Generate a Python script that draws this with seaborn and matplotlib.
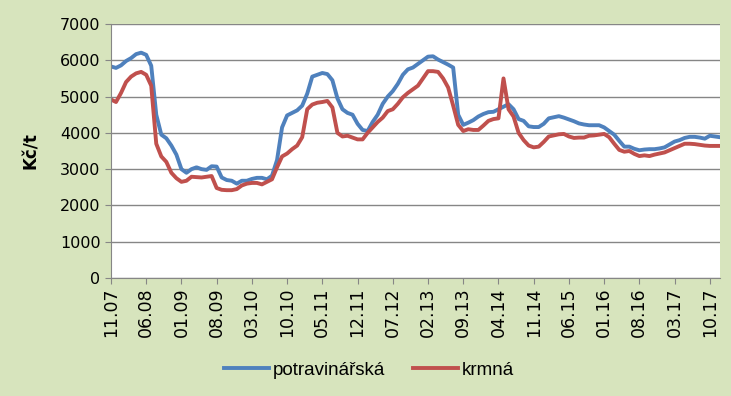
import pandas as pd
import seaborn as sns
import matplotlib.pyplot as plt

# monthly prices, 11.07 .. 12.17 (Kč/t)
months = pd.period_range("2007-11", "2017-12", freq="M")
potravinarska = [
    5830, 5790, 5860, 5980, 6060, 6170, 6210, 6150, 5850, 4500,
    3950, 3850, 3650, 3400, 3000, 2900, 3000, 3050, 3000, 2980,
    3080, 3070, 2770, 2700, 2680, 2600, 2680, 2680, 2730, 2760,
    2760, 2720, 2820, 3250, 4150, 4480, 4550, 4620, 4750, 5080,
    5550, 5600, 5650, 5620, 5450, 4950, 4650, 4550, 4500, 4250,
    4080, 4050, 4300, 4500, 4800, 5000, 5150, 5350, 5600, 5750,
    5800, 5900, 6000, 6100, 6110, 6020, 5950, 5880, 5800, 4500,
    4220, 4280, 4350, 4450, 4520, 4570, 4580, 4650, 4720, 4790,
    4650, 4380, 4330, 4180, 4160, 4160, 4250, 4400, 4430, 4460,
    4420, 4370, 4320, 4260, 4230, 4210, 4210, 4210, 4150, 4050,
    3950, 3780, 3620, 3620, 3560, 3520, 3540, 3550, 3550, 3570,
    3600, 3680, 3760, 3800, 3860, 3890, 3890, 3870, 3840, 3920,
    3900, 3880,
]
krmna = [
    4920, 4850, 5100, 5400, 5550, 5640, 5680, 5600, 5300, 3700,
    3350, 3200, 2900, 2750, 2650, 2680, 2790, 2780, 2770, 2790,
    2810, 2480, 2430, 2420, 2420, 2450, 2550, 2600, 2620, 2620,
    2580, 2650, 2720, 3050, 3350, 3430, 3550, 3650, 3880, 4650,
    4780, 4830, 4850, 4880, 4700, 4000, 3900, 3920, 3870, 3820,
    3820, 4000, 4150, 4300, 4420, 4600, 4650, 4800, 4980, 5100,
    5200, 5300, 5500, 5700, 5700, 5680, 5500, 5250, 4750, 4220,
    4050, 4100, 4080, 4080, 4200, 4330, 4380, 4400, 5500, 4650,
    4450, 4000, 3800, 3650, 3600, 3620, 3750, 3900, 3930, 3960,
    3970, 3900, 3860, 3870, 3870, 3920, 3930, 3950, 3970, 3880,
    3700, 3530, 3480, 3500, 3420, 3360, 3380, 3360, 3400, 3430,
    3460, 3520, 3580, 3640, 3700, 3700, 3690, 3670, 3650, 3640,
    3640, 3640,
]
series_names = ["potravinářská", "krmná"]

labels = [m.strftime("%m.%y") for m in months]
idx = list(range(len(months)))

df = pd.concat([
    pd.DataFrame({"i": idx, "cena": potravinarska, "druh": series_names[0]}),
    pd.DataFrame({"i": idx, "cena": krmna, "druh": series_names[1]}),
])

bg = "#D7E4BD"
fig = plt.figure(figsize=(7.31, 3.96), dpi=100, facecolor=bg)
ax = fig.add_axes([0.1518, 0.298, 0.833, 0.6414])
ax.set_facecolor("white")

sns.lineplot(data=df, x="i", y="cena", hue="druh", ax=ax,
             palette=["#4F81BD", "#C0504D"], linewidth=2.8)

ax.set_xlim(0, len(months) - 1)
ax.set_ylim(0, 7000)
ax.set_yticks(range(0, 7001, 1000))
tick_pos = idx[::7][:18]
ax.set_xticks(tick_pos)
ax.set_xticklabels([labels[i] for i in tick_pos], rotation=90, fontsize=12.5)
ax.tick_params(axis="y", labelsize=11.5, length=4, color="#868686")
ax.tick_params(axis="x", length=4, color="#868686", pad=3)
ax.grid(axis="y", color="#868686", linewidth=1)
ax.set_axisbelow(True)
for s in ["top", "right"]:
    ax.spines[s].set_visible(False)
for s in ["left", "bottom"]:
    ax.spines[s].set_color("#868686")
ax.set_xlabel("")
ax.set_ylabel("Kč/t", fontsize=12, fontweight="bold", labelpad=14)

ax.legend(loc="center", bbox_to_anchor=(0.424, -0.362), ncol=2, frameon=False,
          handlelength=2.4, columnspacing=1.5, handletextpad=0.2,
          prop={"family": ["Liberation Sans Narrow", "Liberation Sans"], "size": 13.5})

fig.savefig("out.png", dpi=100, facecolor=bg)
